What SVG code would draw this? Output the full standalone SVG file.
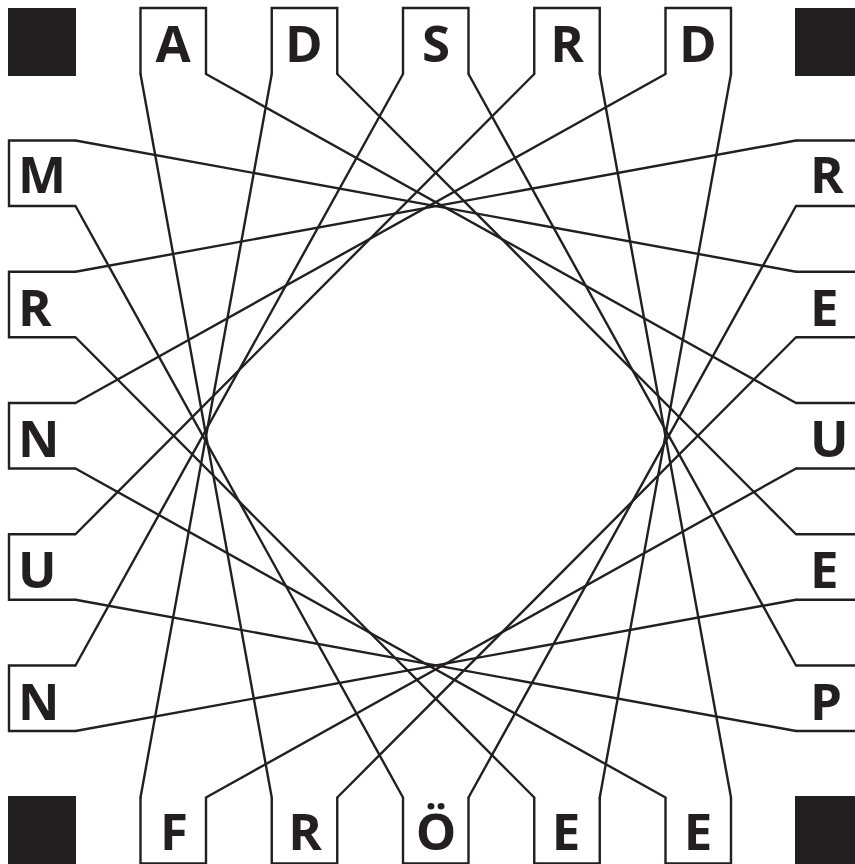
<svg xmlns="http://www.w3.org/2000/svg" width="855" height="864" viewBox="0 0 855 864">
<style>
.box{fill:none;stroke:#231f20;stroke-width:2.4;stroke-linejoin:miter}
.sq{fill:#231f20}
.lbl{font-family:"Open Sans","Liberation Sans",sans-serif;font-weight:700;font-size:51px;fill:#231f20}
.c{text-anchor:middle}
#connectors line{stroke:#231f20;stroke-width:2.4;stroke-linecap:round}
</style>
<rect width="855" height="864" fill="#ffffff"/>
<g id="corners">
<rect class="sq" x="8" y="8" width="68" height="68"/>
<rect class="sq" x="795" y="8" width="68" height="68"/>
<rect class="sq" x="8" y="796" width="68" height="68"/>
<rect class="sq" x="795" y="796" width="68" height="68"/>
</g>
<g id="connectors">
<line x1="140.5" y1="74" x2="271.75" y2="797.5"/>
<line x1="206" y1="74" x2="796" y2="403"/>
<line x1="271.75" y1="74" x2="140.5" y2="797.5"/>
<line x1="337.25" y1="74" x2="796" y2="534.25"/>
<line x1="796" y1="271.75" x2="75.5" y2="140.5"/>
<line x1="796" y1="337.25" x2="337.25" y2="797.5"/>
<line x1="796" y1="468.5" x2="206" y2="797.5"/>
<line x1="796" y1="599.75" x2="75.5" y2="731"/>
<line x1="75.5" y1="206" x2="403" y2="797.5"/>
<line x1="75.5" y1="271.75" x2="796" y2="140.5"/>
<line x1="75.5" y1="337.25" x2="534.25" y2="797.5"/>
<line x1="468.5" y1="797.5" x2="796" y2="206"/>
<line x1="599.75" y1="797.5" x2="731" y2="74"/>
<line x1="796" y1="731" x2="75.5" y2="599.75"/>
<line x1="796" y1="665.5" x2="468.5" y2="74"/>
<line x1="599.75" y1="74" x2="731" y2="797.5"/>
<line x1="534.25" y1="74" x2="75.5" y2="534.25"/>
<line x1="403" y1="74" x2="75.5" y2="665.5"/>
<line x1="665.5" y1="797.5" x2="75.5" y2="468.5"/>
<line x1="75.5" y1="403" x2="665.5" y2="74"/>
</g>
<g id="top-A"><path class="box" d="M140.5,74 V8 H206 V74"/><text class="lbl c" x="173" y="62">A</text></g>
<g id="top-D1"><path class="box" d="M271.75,74 V8 H337.25 V74"/><text class="lbl c" x="304" y="62">D</text></g>
<g id="top-S"><path class="box" d="M403,74 V8 H468.5 V74"/><text class="lbl c" x="436" y="62">S</text></g>
<g id="top-R"><path class="box" d="M534.25,74 V8 H599.75 V74"/><text class="lbl c" x="567" y="62">R</text></g>
<g id="top-D2"><path class="box" d="M665.5,74 V8 H731 V74"/><text class="lbl c" x="698" y="62">D</text></g>
<g id="left-M"><path class="box" d="M75.5,140.5 H9 V206 H75.5"/><text class="lbl" x="18" y="193">M</text></g>
<g id="left-R"><path class="box" d="M75.5,271.75 H9 V337.25 H75.5"/><text class="lbl" x="18" y="326">R</text></g>
<g id="left-N1"><path class="box" d="M75.5,403 H9 V468.5 H75.5"/><text class="lbl" x="18" y="457">N</text></g>
<g id="left-U"><path class="box" d="M75.5,534.25 H9 V599.75 H75.5"/><text class="lbl" x="18" y="588">U</text></g>
<g id="left-N2"><path class="box" d="M75.5,665.5 H9 V731 H75.5"/><text class="lbl" x="18" y="720">N</text></g>
<g id="right-R"><path class="box" d="M796,140.5 H862.5 V206 H796"/><text class="lbl" x="810" y="193">R</text></g>
<g id="right-E1"><path class="box" d="M796,271.75 H862.5 V337.25 H796"/><text class="lbl" x="810" y="326">E</text></g>
<g id="right-U"><path class="box" d="M796,403 H862.5 V468.5 H796"/><text class="lbl" x="810" y="457">U</text></g>
<g id="right-E2"><path class="box" d="M796,534.25 H862.5 V599.75 H796"/><text class="lbl" x="810" y="588">E</text></g>
<g id="right-P"><path class="box" d="M796,665.5 H862.5 V731 H796"/><text class="lbl" x="810" y="720">P</text></g>
<g id="bottom-F"><path class="box" d="M140.5,797.5 V863.5 H206 V797.5"/><text class="lbl c" x="174" y="850">F</text></g>
<g id="bottom-R"><path class="box" d="M271.75,797.5 V863.5 H337.25 V797.5"/><text class="lbl c" x="305" y="850">R</text></g>
<g id="bottom-OE"><path class="box" d="M403,797.5 V863.5 H468.5 V797.5"/><text class="lbl c" x="436" y="850">Ö</text></g>
<g id="bottom-E1"><path class="box" d="M534.25,797.5 V863.5 H599.75 V797.5"/><text class="lbl c" x="566" y="850">E</text></g>
<g id="bottom-E2"><path class="box" d="M665.5,797.5 V863.5 H731 V797.5"/><text class="lbl c" x="698" y="850">E</text></g>
</svg>
